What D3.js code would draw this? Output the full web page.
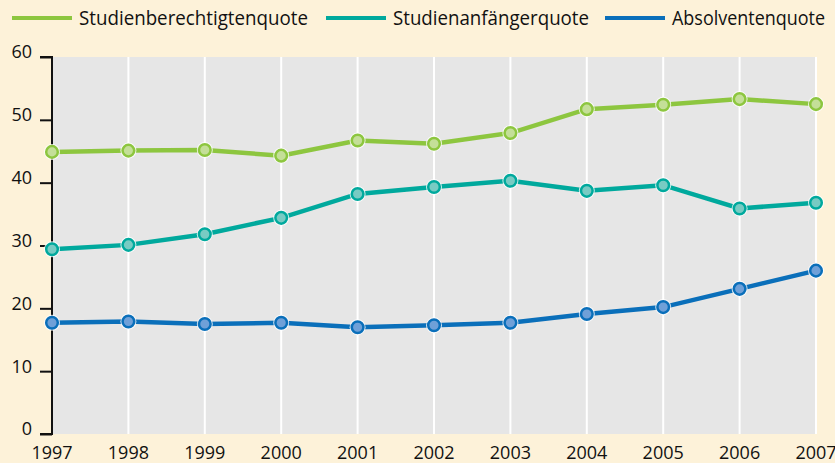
<!DOCTYPE html>
<html>
<head>
<meta charset="utf-8">
<script src="https://cdn.jsdelivr.net/npm/d3@7"></script>
<style>
  html, body { margin: 0; padding: 0; background: #fdf2d9; }
  svg { display: block; font-family: "Open Sans", sans-serif; }
</style>
</head>
<body>
<svg id="chart" width="835" height="463"></svg>
<script>
const years = [1997, 1998, 1999, 2000, 2001, 2002, 2003, 2004, 2005, 2006, 2007];
const berechtigt = [44.9, 45.1, 45.2, 44.3, 46.7, 46.2, 47.9, 51.7, 52.4, 53.3, 52.5];
const anfaenger = [29.4, 30.1, 31.8, 34.4, 38.2, 39.3, 40.3, 38.7, 39.6, 35.9, 36.8];
const absolventen = [17.7, 17.9, 17.5, 17.7, 17.0, 17.3, 17.7, 19.1, 20.2, 23.1, 26.0];
const yTicks = [0, 10, 20, 30, 40, 50, 60];

const series = [
  {name: "Studienberechtigtenquote", values: berechtigt, stroke: "#8dc63f", fill: "#c4df98"},
  {name: "Studienanfängerquote", values: anfaenger, stroke: "#00a99d", fill: "#78cbc3"},
  {name: "Absolventenquote", values: absolventen, stroke: "#0a6fba", fill: "#6fa0d8"}
];

const svg = d3.select("#chart");
const m = {left: 52, right: 19, top: 57, bottom: 29};
const W = 835, H = 463;

const x = d3.scaleLinear().domain([1997, 2007]).range([m.left, W - m.right]);
const y = d3.scaleLinear().domain([0, 60]).range([H - m.bottom, m.top]);

// plot background
svg.append("rect")
  .attr("x", x(1997)).attr("y", y(60))
  .attr("width", x(2007) - x(1997)).attr("height", y(0) - y(60))
  .attr("fill", "#e6e6e6");

// vertical white grid lines
svg.append("g").selectAll("line").data(years.slice(1)).join("line")
  .attr("x1", d => x(d)).attr("x2", d => x(d))
  .attr("y1", y(60)).attr("y2", y(0))
  .attr("stroke", "#fff").attr("stroke-width", 2);

// y axis
const yAxis = svg.append("g").attr("transform", `translate(${x(1997)},0)`)
  .call(d3.axisLeft(y).tickValues(yTicks).tickSize(12).tickPadding(8));
yAxis.select(".domain").attr("stroke", "#111").attr("stroke-width", 2).attr("d", `M-12,${y(60)}H0V${y(0)}H-12`);
yAxis.selectAll(".tick line").attr("stroke", "#111").attr("stroke-width", 2);
yAxis.selectAll(".tick text").attr("font-size", 18).attr("fill", "#111").attr("dy", "0.05em")
  .attr("font-family", "Open Sans");

// x labels
svg.append("g").selectAll("text").data(years).join("text")
  .attr("x", d => x(d)).attr("y", H - 4)
  .attr("text-anchor", "middle")
  .attr("font-size", 18).attr("fill", "#111")
  .text(d => d);

// lines and markers
const line = d3.line().x((d, i) => x(years[i])).y(d => y(d));
series.forEach(s => {
  svg.append("path").datum(s.values)
    .attr("d", line).attr("fill", "none")
    .attr("stroke", s.stroke).attr("stroke-width", 4.5);
  const g = svg.append("g");
  g.selectAll("circle.halo").data(s.values).join("circle")
    .attr("class", "halo")
    .attr("cx", (d, i) => x(years[i])).attr("cy", d => y(d))
    .attr("r", 8).attr("fill", "#fff").attr("opacity", 0.8);
  g.selectAll("circle.pt").data(s.values).join("circle")
    .attr("class", "pt")
    .attr("cx", (d, i) => x(years[i])).attr("cy", d => y(d))
    .attr("r", 5.8).attr("fill", s.fill)
    .attr("stroke", s.stroke).attr("stroke-width", 2.5);
});

// legend
const legendX = [12, 326, 605];
const legendW = [229, 196, 153];
const legend = svg.append("g").selectAll("g").data(series).join("g")
  .attr("transform", (d, i) => `translate(${legendX[i]},18)`);
legend.append("line").attr("x1", 0).attr("x2", 60)
  .attr("stroke", d => d.stroke).attr("stroke-width", 4);
legend.append("text").attr("x", 67).attr("y", 7)
  .attr("font-size", 20).attr("fill", "#111")
  .attr("textLength", (d, i) => legendW[i])
  .attr("lengthAdjust", "spacingAndGlyphs")
  .text(d => d.name);
</script>
</body>
</html>
